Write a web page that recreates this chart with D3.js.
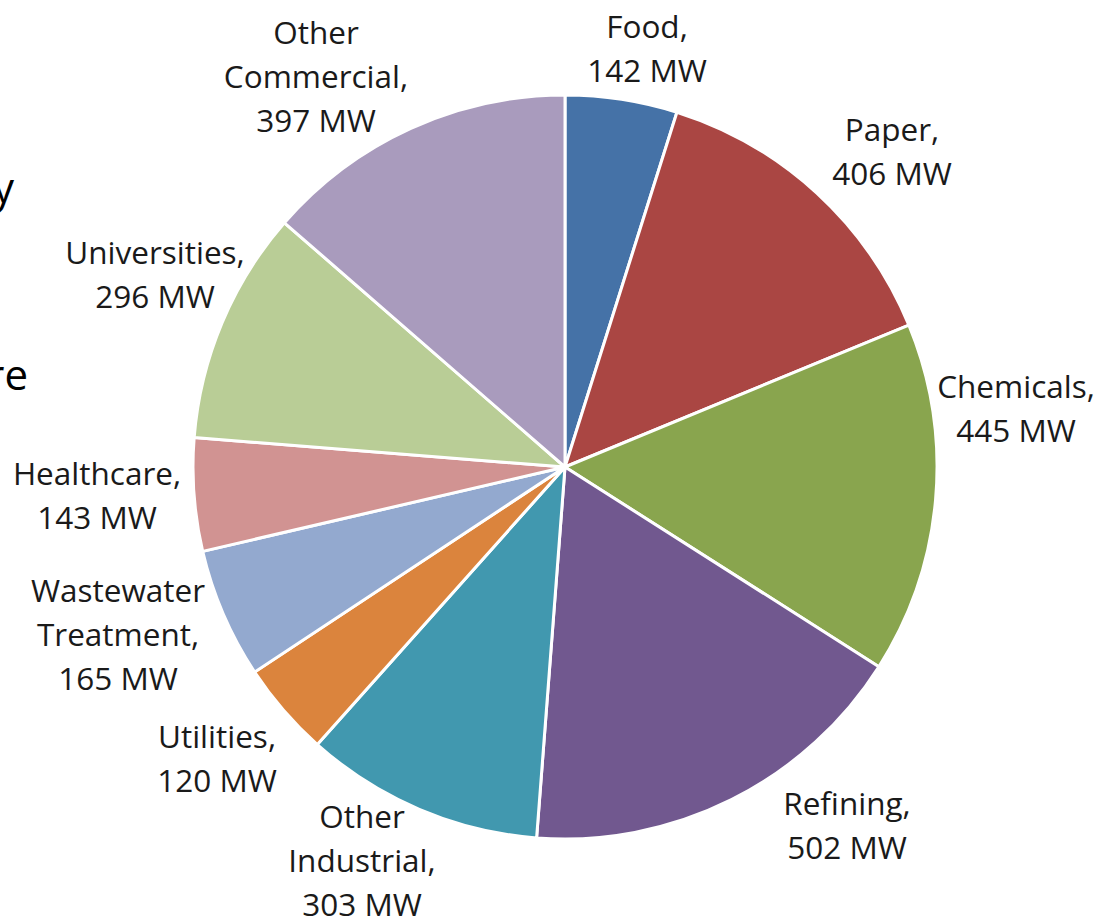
<!DOCTYPE html>
<html><head><meta charset="utf-8">
<script src="https://cdn.jsdelivr.net/npm/d3@7"></script>
<style>body{margin:0;background:#fff;} svg{display:block;}</style>
</head><body>
<svg id="chart" width="1099" height="923"></svg>
<script>
const categories = ["Food","Paper","Chemicals","Refining","Other Industrial","Utilities","Wastewater Treatment","Healthcare","Universities","Other Commercial"];
const valuesMW = [142,406,445,502,303,120,165,143,296,397];
const unitLabel = "MW";
const colors = ["#4572A7","#AA4643","#89A54E","#71588F","#4198AF","#DB843D","#93A9CF","#D19392","#B9CD96","#A99BBD"];
// label placement (offset of label block centre from pie centre)
const labelLayout = [[82,-418],[327,-315],[451,-58],[282,359],[-203,394],[-348,292],[-447,168],[-468,29],[-410,-192],[-249,-390]];

const svg = d3.select("#chart");
const cx = 565, cy = 467, R = 372;
const font = "'Open Sans', 'Noto Sans', sans-serif";
const fs = 31.5, lh = 44;

// cut-off slide text on the left edge (partially outside the picture, as in the reference)
svg.append("text").attr("x",14).attr("y",203).attr("text-anchor","end")
  .attr("font-family",font).attr("font-size",42).attr("fill","#000").text("by");
svg.append("text").attr("x",28).attr("y",390).attr("text-anchor","end")
  .attr("font-family",font).attr("font-size",42).attr("fill","#000").text("are");

const data = categories.map((c,i)=>({name:c, value:valuesMW[i], i}));
const pie = d3.pie().value(d=>d.value).sort(null);
const arc = d3.arc().innerRadius(0).outerRadius(R);
const arcs = pie(data);

const g = svg.append("g").attr("transform",`translate(${cx},${cy})`);
g.selectAll("path").data(arcs).join("path")
  .attr("d",arc)
  .attr("fill",d=>colors[d.data.i])
  .attr("stroke","#fff").attr("stroke-width",3).attr("stroke-linejoin","round");

function labelLines(name, v){
  const words = name.split(" ");
  const lines = [];
  if (words.length>1){ lines.push(words[0]); lines.push(words.slice(1).join(" ")+","); }
  else lines.push(name+",");
  lines.push(v+" "+unitLabel);
  return lines;
}
const lab = g.selectAll("g.lab").data(arcs).join("g").attr("class","lab")
  .attr("transform",d=>`translate(${labelLayout[d.data.i][0]},${labelLayout[d.data.i][1]})`);
lab.each(function(d){
  const lines = labelLines(d.data.name, d.data.value);
  const t = d3.select(this).append("text").attr("text-anchor","middle")
    .attr("font-family",font).attr("font-size",fs).attr("fill","#1a1a1a");
  const n = lines.length;
  lines.forEach((l,k)=>{
    t.append("tspan").attr("x",0).attr("y",(k-(n-1)/2)*lh).attr("dy","0.35em").text(l);
  });
});
</script>
</body></html>
